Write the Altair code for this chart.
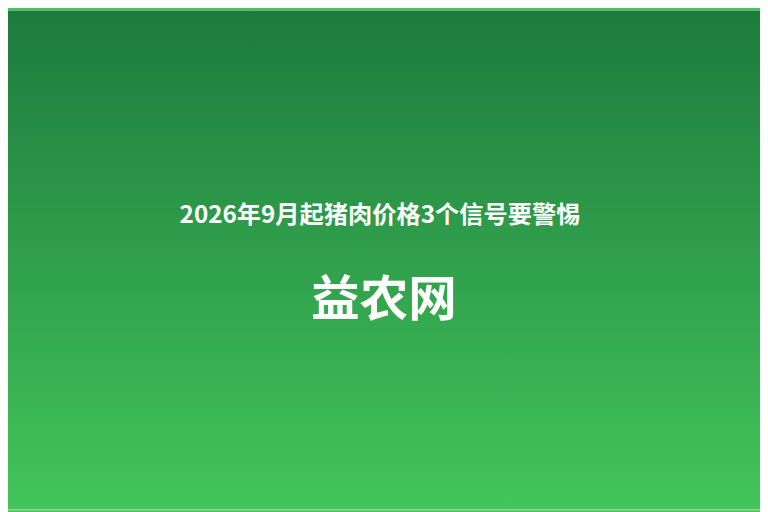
import altair as alt
import pandas as pd

# Banner content
texts = ["2026年9月起猪肉价格3个信号要警惕", "益农网"]
text_x = [384, 388]          # horizontal centre
text_y = [216, 302]          # vertical centre
text_size = [24.5, 49]

# Background gradient colours (top -> bottom)
grad_top = "#1e7a3e"
grad_bottom = "#43c55a"

W, H = 760, 504   # page has 8px margin
OFF = 8

df = pd.DataFrame({
    "text": texts,
    "x": text_x,
    "y": text_y,
    "size": text_size,
})

xs = alt.Scale(domain=[OFF, OFF + W], range=[0, W])
ys = alt.Scale(domain=[OFF, OFF + H], range=[0, H])

bg = alt.Chart(pd.DataFrame({"a": [0]})).mark_rect(
    fill=alt.Gradient(
        gradient="linear",
        stops=[alt.GradientStop(color=grad_top, offset=0),
               alt.GradientStop(color=grad_bottom, offset=1)],
        x1=0, x2=0, y1=0, y2=1,
    )
).encode(
    x=alt.value(0), x2=alt.value(W), y=alt.value(0), y2=alt.value(H)
)

txt = alt.Chart(df).mark_text(
    color="white",
    fontWeight="bold",
    font="Noto Sans CJK SC",
    baseline="middle",
    align="center",
).encode(
    x=alt.X("x:Q", scale=xs, axis=None),
    y=alt.Y("y:Q", scale=ys, axis=None),
    text="text:N",
    size=alt.Size("size:Q", scale=None, legend=None),
)

chart = alt.layer(bg, txt).properties(
    width=W, height=H, padding=0, autosize="none"
).configure_view(stroke=None).configure(background="#43c55a")

chart.save("out.html", embed_options={"renderer": "svg", "actions": False})
